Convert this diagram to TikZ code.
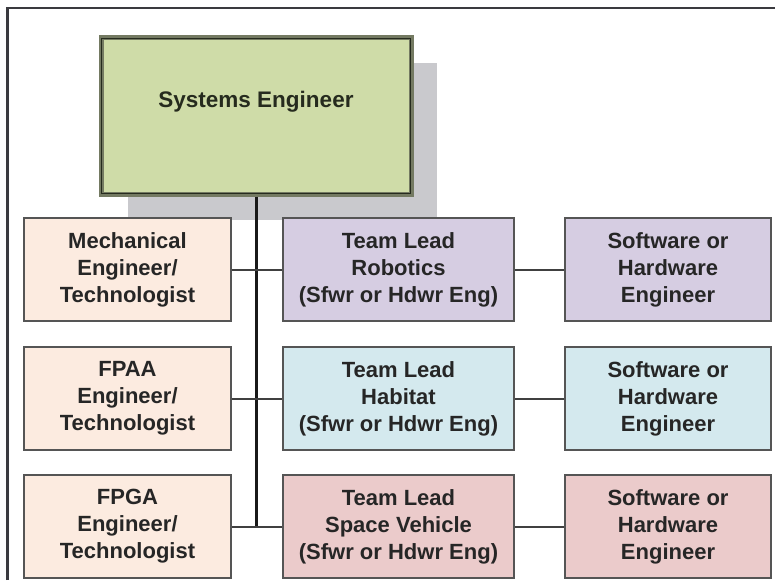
\documentclass[tikz,border=0pt]{standalone}
\usepackage{fontspec}
\usetikzlibrary{calc}
\setmainfont{Liberation Sans}
\definecolor{frame}{HTML}{3A3A3F}
\definecolor{sefill}{HTML}{CFDCA8}
\definecolor{seout}{HTML}{747A62}
\definecolor{sein}{HTML}{262B1E}
\definecolor{shadowc}{HTML}{C9C9CD}
\definecolor{peach}{HTML}{FCEBE0}
\definecolor{robot}{HTML}{D6CDE2}
\definecolor{habitat}{HTML}{D4E9EE}
\definecolor{space}{HTML}{EBCBCB}
\definecolor{boxline}{HTML}{555555}
\definecolor{txt}{HTML}{262626}
\tikzset{
  orgbox/.style={draw=boxline, line width=2.5pt, minimum height=103pt, inner sep=0pt,
    align=center, text=txt, font=\fontsize{22}{27}\selectfont\bfseries},
  leftbox/.style={orgbox, fill=peach, minimum width=207pt},
  midbox/.style={orgbox, minimum width=231pt},
  rightbox/.style={orgbox, minimum width=206pt},
  conn/.style={draw=black!75, line width=2pt},
  trunk/.style={draw=black!90, line width=3pt}
}
\begin{document}
\begin{tikzpicture}[x=1pt,y=-1pt]
\useasboundingbox (0,0) rectangle (775,580);
% frame
\draw[frame, line width=2.5pt] (7.5,580) -- (7.5,8) -- (775,8);
% shadow of top box
\fill[shadowc] (128,63) rectangle (437,220);
% top box
\node[draw=seout, line width=5pt, fill=sefill, minimum width=310pt, minimum height=156pt, inner sep=0pt] (se) at (256,116) {};
\draw[sein, line width=1.2pt] ($(se.north west)+(3,3)$) rectangle ($(se.south east)+(-3,-3)$);
\node[text=sein, font=\fontsize{22.5}{27}\selectfont\bfseries, inner sep=0pt] (setxt) at (256,102) {Systems Engineer};
% row boxes
\node[leftbox] (l1) at (127.5,269.5) {Mechanical\\Engineer/\\Technologist};
\node[midbox, fill=robot] (m1) at (398.5,269.5) {Team Lead\\Robotics\\(Sfwr or Hdwr Eng)};
\node[rightbox, fill=robot] (r1) at (668,269.5) {Software or\\Hardware\\Engineer};
\node[leftbox] (l2) at (127.5,398.5) {FPAA\\Engineer/\\Technologist};
\node[midbox, fill=habitat] (m2) at (398.5,398.5) {Team Lead\\Habitat\\(Sfwr or Hdwr Eng)};
\node[rightbox, fill=habitat] (r2) at (668,398.5) {Software or\\Hardware\\Engineer};
\node[leftbox] (l3) at (127.5,526.5) {FPGA\\Engineer/\\Technologist};
\node[midbox, fill=space] (m3) at (398.5,526.5) {Team Lead\\Space Vehicle\\(Sfwr or Hdwr Eng)};
\node[rightbox, fill=space] (r3) at (668,526.5) {Software or\\Hardware\\Engineer};
% trunk
\coordinate (tEnd) at (256,527.5);
\draw[trunk] (se.south) -- (tEnd);
% connectors
\foreach \i in {1,2,3}{
  \draw[conn] (l\i.east) -- (m\i.west);
  \draw[conn] (m\i.east) -- (r\i.west);
}
\end{tikzpicture}
\end{document}
